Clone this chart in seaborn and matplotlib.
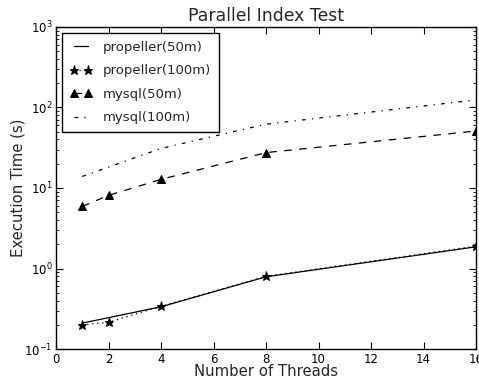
import numpy as np
import pandas as pd
import matplotlib
matplotlib.use("Agg")
import matplotlib.pyplot as plt
import seaborn as sns

threads_prop50 = [1, 4, 8, 16]
prop50 = [0.21, 0.335, 0.79, 1.86]
threads_prop100 = [1, 2, 4, 8, 16]
prop100 = [0.2, 0.215, 0.34, 0.8, 1.9]
threads_mysql50 = [1, 2, 4, 8, 16]
mysql50 = [5.9, 8.1, 12.8, 27.5, 51.0]
threads_mysql100 = [1, 4, 8, 16]
mysql100 = [13.9, 31.0, 62.0, 124.0]

series_names = ["propeller(50m)", "propeller(100m)", "mysql(50m)", "mysql(100m)"]

rows = []
for name, xs, ys in zip(series_names,
                        [threads_prop50, threads_prop100, threads_mysql50, threads_mysql100],
                        [prop50, prop100, mysql50, mysql100]):
    for x, y in zip(xs, ys):
        rows.append({"Threads": x, "Time": y, "Series": name})
df = pd.DataFrame(rows)

sns.set_style("ticks")
plt.rcParams.update({
    "font.family": ["DejaVu Sans"],
    "xtick.direction": "in",
    "ytick.direction": "in",
    "xtick.top": True,
    "ytick.right": True,
    "axes.linewidth": 1.0,
    "axes.edgecolor": "black",
    "xtick.color": "black",
    "ytick.color": "black",
})

fig = plt.figure(figsize=(4.79, 3.79), dpi=100)
ax = fig.add_axes([0.117, 0.079, 0.877, 0.850])

styles = {
    "propeller(50m)": dict(ls="-", marker=None, ms=6),
    "propeller(100m)": dict(ls=(0, (1, 3)), marker="*", ms=6.5),
    "mysql(50m)": dict(ls=(0, (6, 6)), marker="^", ms=5.5),
    "mysql(100m)": dict(ls=(0, (3, 5, 1, 5)), marker=None, ms=6),
}

for name in series_names:
    sub = df[df["Series"] == name]
    st = styles[name]
    sns.lineplot(data=sub, x="Threads", y="Time", ax=ax, color="black",
                 linewidth=0.9, linestyle=st["ls"], marker=st["marker"],
                 markersize=st["ms"], markeredgecolor="black", label=name)

ax.set_yscale("log")
ax.set_xlim(0, 16)
ax.set_ylim(0.1, 1000)
ax.set_xticks(range(0, 17, 2))
ax.tick_params(which="major", length=5, width=0.8, labelsize=8.5, direction="in",
               top=True, right=True, pad=2.5)
ax.tick_params(which="minor", length=2.5, width=0.6, direction="in", top=False, right=True)
ax.xaxis.set_minor_locator(matplotlib.ticker.NullLocator())
ax.set_xlabel("Number of Threads", fontsize=10.7, labelpad=-1)
ax.set_ylabel("Execution Time (s)", fontsize=10.7, labelpad=-1)
ax.set_title("Parallel Index Test", fontsize=12.4, pad=4)

leg = ax.legend(loc="upper left", fontsize=9.5, numpoints=2, fancybox=False,
                frameon=True, handlelength=1.7, handletextpad=0.8,
                labelspacing=0.8, borderpad=0.6, borderaxespad=0.45,
                markerscale=1.0)
leg.get_frame().set_edgecolor("black")
leg.get_frame().set_linewidth(1.0)
leg.get_frame().set_alpha(1)

fig.savefig("out.png", dpi=100)
